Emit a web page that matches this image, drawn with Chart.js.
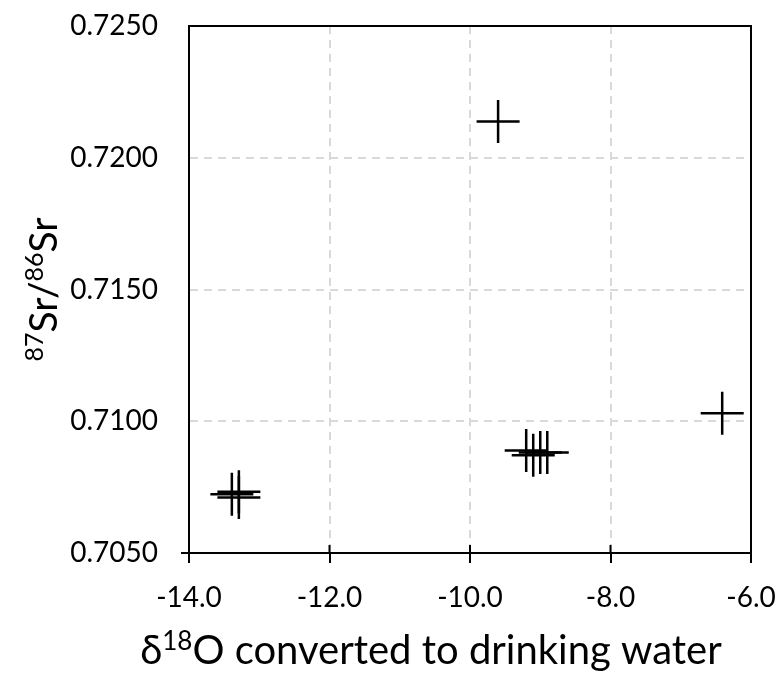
<!DOCTYPE html>
<html>
<head>
<meta charset="utf-8">
<script src="https://cdn.jsdelivr.net/npm/chart.js@4/dist/chart.umd.min.js"></script>
<style>
  html, body { margin: 0; padding: 0; background: #ffffff; }
  #wrap { width: 779px; height: 677px; position: relative; }
</style>
</head>
<body>
<div id="wrap"><canvas id="c"></canvas></div>
<script>
// ---- data ----
const d18O   = [-13.39, -13.29, -13.29, -9.60, -9.20, -9.10, -9.00, -8.90, -6.41];
const srRatio = [0.70723, 0.70732, 0.70711, 0.72138, 0.70889, 0.70871, 0.70881, 0.70881, 0.71030];
const xTicks = [-14, -12, -10, -8, -6];
const yTicks = [0.705, 0.710, 0.715, 0.720, 0.725];
const xTitleParts = [{t: 'δ'}, {t: '18', sup: true}, {t: 'O converted to drinking water'}];
const yTitleParts = [{t: '87', sup: true}, {t: 'Sr/'}, {t: '86', sup: true}, {t: 'Sr'}];

const FONT = 'Lato, "Liberation Sans", sans-serif';

function drawParts(ctx, parts, size) {
  const supSize = Math.round(size * 0.65);
  let total = 0;
  const widths = parts.map(p => {
    ctx.font = (p.sup ? supSize : size) + 'px ' + FONT;
    const w = ctx.measureText(p.t).width;
    total += w;
    return w;
  });
  let x = -total / 2;
  parts.forEach((p, i) => {
    ctx.font = (p.sup ? supSize : size) + 'px ' + FONT;
    ctx.fillText(p.t, x, p.sup ? -size * 0.36 : 0);
    x += widths[i];
  });
}

const framePlugin = {
  id: 'frame',
  afterDraw(chart) {
    const {ctx, chartArea: a, scales} = chart;
    ctx.save();
    ctx.strokeStyle = '#000';
    ctx.lineWidth = 2;
    ctx.strokeRect(a.left, a.top, a.right - a.left, a.bottom - a.top);
    // inner half of crossing tick marks on the x axis + small tick at y minimum
    ctx.beginPath();
    xTicks.forEach(v => {
      const px = scales.x.getPixelForValue(v);
      ctx.moveTo(px, a.bottom - 8);
      ctx.lineTo(px, a.bottom);
    });
    const py = scales.y.getPixelForValue(yTicks[0]);
    ctx.moveTo(a.left - 8, py);
    ctx.lineTo(a.left, py);
    ctx.stroke();
    // axis titles
    ctx.fillStyle = '#000';
    ctx.textBaseline = 'alphabetic';
    ctx.textAlign = 'left';
    ctx.save();
    ctx.translate(431, 664);
    drawParts(ctx, xTitleParts, 40);
    ctx.restore();
    ctx.save();
    ctx.translate(57, (a.top + a.bottom) / 2);
    ctx.rotate(-Math.PI / 2);
    drawParts(ctx, yTitleParts, 39);
    ctx.restore();
    ctx.restore();
  }
};

function noPad(s) {
  s.paddingLeft = 0; s.paddingRight = 0; s.paddingTop = 0; s.paddingBottom = 0;
}

new Chart(document.getElementById('c'), {
  type: 'scatter',
  data: {
    datasets: [{
      data: d18O.map((x, i) => ({x: x, y: srRatio[i]})),
      pointStyle: 'cross',
      pointRadius: 21.5,
      pointHoverRadius: 21.5,
      pointBorderWidth: 2.5,
      pointHoverBorderWidth: 2.5,
      borderColor: '#000',
      backgroundColor: '#000',
      showLine: false
    }]
  },
  options: {
    responsive: true,
    maintainAspectRatio: false,
    animation: false,
    devicePixelRatio: 1,
    layout: { padding: { left: 0, top: 26, right: 28, bottom: 0 } },
    plugins: { legend: { display: false }, tooltip: { enabled: false } },
    scales: {
      x: {
        type: 'linear',
        min: -14, max: -6,
        afterBuildTicks: s => { s.ticks = xTicks.map(v => ({value: v})); },
        afterFit: s => { s.height = 124; noPad(s); },
        ticks: {
          color: '#000',
          font: { family: FONT, size: 28 },
          padding: 18,
          callback: v => Number(v).toFixed(1)
        },
        grid: {
          color: '#d9d9d9', lineWidth: 2,
          tickColor: '#000', tickWidth: 2, tickLength: 10
        },
        border: { display: true, color: '#000', width: 2, dash: [8, 6] }
      },
      y: {
        type: 'linear',
        min: 0.705, max: 0.725,
        afterBuildTicks: s => { s.ticks = yTicks.map(v => ({value: v})); },
        afterFit: s => { s.width = 189; noPad(s); },
        ticks: {
          color: '#000',
          font: { family: FONT, size: 28 },
          padding: 31,
          callback: v => Number(v).toFixed(4)
        },
        grid: {
          color: '#d9d9d9', lineWidth: 2,
          drawTicks: false
        },
        border: { display: true, color: '#000', width: 2, dash: [8, 6] }
      }
    }
  },
  plugins: [framePlugin]
});
</script>
</body>
</html>
